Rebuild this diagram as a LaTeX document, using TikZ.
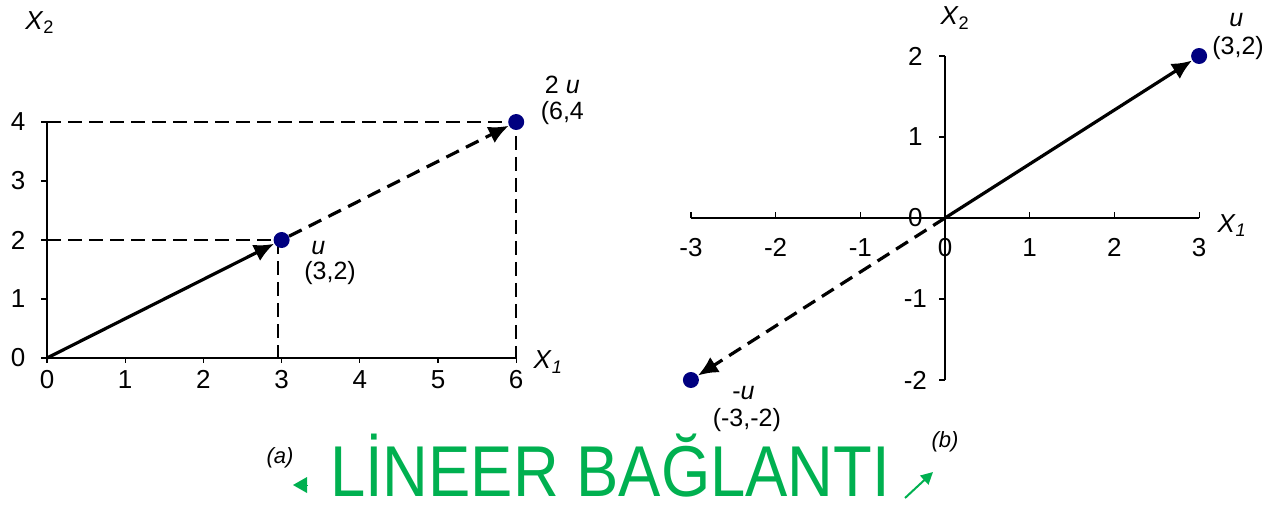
\documentclass[tikz,border=0pt]{standalone}
\usepackage{fontspec}
\setmainfont{Liberation Sans}
\usepackage{tikz}
\usetikzlibrary{arrows.meta}
\definecolor{dotblue}{RGB}{0,0,128}
\definecolor{titlegreen}{RGB}{0,176,80}

\begin{document}
\begin{tikzpicture}[
  axis/.style={line width=0.6pt},
  guide/.style={line width=0.9pt, dash pattern=on 7pt off 3.5pt},
  vec/.style={line width=1.6pt, -{Latex[length=10pt, width=9pt]}},
  dashvec/.style={vec, dash pattern=on 7pt off 4pt},
  point/.style={circle, fill=dotblue, inner sep=0pt, minimum size=8pt},
  ticklabel/.style={font=\fontsize{13}{15}\selectfont},
  varlabel/.style={font=\fontsize{12.5}{14}\selectfont, inner sep=0pt},
  axislabel/.style={font=\fontsize{13}{15}\selectfont, inner sep=0pt},
  panel/.style={font=\fontsize{11}{13}\selectfont\itshape},
  heading/.style={font=\fontsize{36}{40}\selectfont, text=titlegreen, anchor=base, inner sep=0pt, transform shape, xscale=0.88},
  greenhead/.style={titlegreen, line width=0pt, -{Triangle[length=7pt, width=8pt]}},
  greenarrow/.style={titlegreen, line width=1pt, -{Triangle[length=6pt, width=6pt]}},
]
  \useasboundingbox (0,0) rectangle (634pt,-255pt);

  % Left plot: u and 2u
  \begin{scope}[shift={(23.5pt,-179pt)}, x=39.1pt, y=29.5pt]
    \coordinate (Lorigin) at (0,0);
    \draw [axis] (0,4) -- (0,0) -- (6,0);
    \foreach \x in {0,...,6} {
      \draw [axis] (\x,0) -- ++(0,-2.5pt);
      \node [ticklabel] (lx\x) at (\x,-0.37) {\x};
    }
    \foreach \y in {0,...,4} {
      \draw [axis] (0,\y) -- ++(-3pt,0);
      \node [ticklabel] (ly\y) at (-0.37,\y) {\y};
    }
    \node [axislabel] (lX2) at (-0.09,5.69) {\textit{X}\textsubscript{2}};
    \node [axislabel] (lX1) at (6.41,-0.07) {\textit{X}\textsubscript{\textit{1}}};

    % Guides to the axes
    \draw [guide] (0,2) -- (3,2);
    \draw [guide] (2.95,2) -- (2.95,0);
    \draw [guide] (0,4) -- (6,4) -- (6,0);

    % Points and vectors
    \node [point] (u) at (3,2) {};
    \node [point] (twou) at (6,4) {};
    \draw [vec] (Lorigin) -- (u);
    \draw [dashvec] (u) -- (twou);

    \node [varlabel] (ulab) at (3.47,1.86) {\textit{u}};
    \node [varlabel] (ucoord) at (3.62,1.44) {(3,2)};
    \node [varlabel] (twoulab) at (6.59,4.63) {2 \textit{u}};
    \node [varlabel] (twoucoord) at (6.59,4.15) {(6,4};
  \end{scope}

  % Right plot: u and -u
  \begin{scope}[shift={(472.5pt,-109pt)}, x=42.35pt, y=40.5pt]
    \coordinate (Rorigin) at (0,0);
    \draw [axis] (-3,0) -- (3,0);
    \draw [axis] (0,2) -- (0,-2);
    \foreach \x in {-3,...,3} {
      \draw [axis] (\x,0) -- ++(0,3pt);
      \node [ticklabel] (rx\x) at (\x,-0.36) {\x};
    }
    \foreach \y in {-2,...,2} {
      \draw [axis] (0,\y) -- ++(-3pt,0);
      \node [ticklabel] (ry\y) at (-0.35,\y) {\y};
    }
    \node [axislabel] (rX2) at (0.12,2.47) {\textit{X}\textsubscript{2}};
    \node [axislabel] (rX1) at (3.39,-0.09) {\textit{X}\textsubscript{\textit{1}}};

    % Points and vectors
    \node [point] (v) at (3,2) {};
    \node [point] (negv) at (-3,-2) {};
    \draw [vec] (Rorigin) -- (v);
    \draw [dashvec] (Rorigin) -- (negv);

    \node [varlabel] (vlab) at (3.44,2.44) {\textit{u}};
    \node [varlabel] (vcoord) at (3.46,2.10) {(3,2)};
    \node [varlabel] (negvlab) at (-2.38,-2.16) {-\textit{u}};
    \node [varlabel] (negvcoord) at (-2.34,-2.49) {(-3,-2)};
  \end{scope}

  % Panel names and title
  \node [panel] (pa) at (140pt,-229pt) {(a)};
  \node [panel] (pb) at (472.5pt,-221pt) {(b)};
  \node [heading] (title) at (305pt,-248pt) {LİNEER BAĞLANTI};

  \coordinate (markLa) at (153.5pt,-242.5pt);
  \coordinate (markLb) at (146.5pt,-242.5pt);
  \draw [greenhead] (markLa) -- (markLb);
  \coordinate (markRa) at (452.5pt,-249pt);
  \coordinate (markRb) at (466.5pt,-236pt);
  \draw [greenarrow] (markRa) -- (markRb);
\end{tikzpicture}
\end{document}
